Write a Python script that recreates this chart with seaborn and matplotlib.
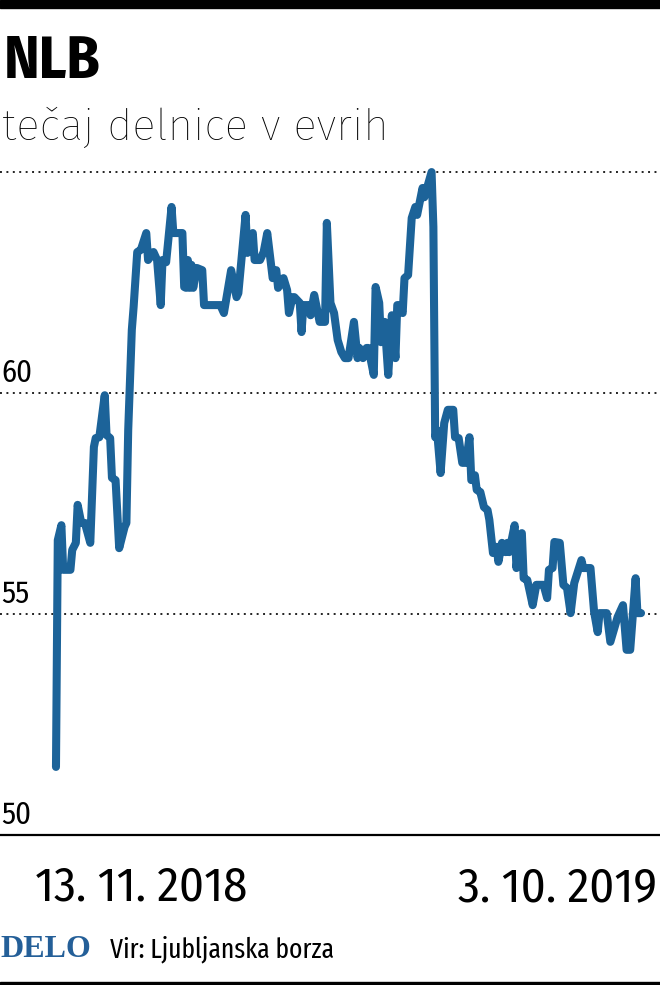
import pandas as pd
import matplotlib
matplotlib.use("Agg")
import matplotlib.pyplot as plt
import matplotlib.transforms as mtransforms
import seaborn as sns


# =========================
# 1. Data
# =========================

start_date = "2018-11-13"
end_date = "2019-10-03"

# days after 13. 11. 2018
day_offsets = [
    0, 1, 3, 4, 8, 9, 11, 12, 14, 16, 19, 21, 22, 24, 27, 28, 30, 31, 33, 35,
    38, 39, 40, 42, 43, 45, 47, 50, 51, 54, 56, 58, 59, 61, 64, 65, 70, 71, 72, 73,
    74, 75, 76, 78, 81, 82, 91, 93, 97, 100, 101, 105, 106, 109, 110, 113, 115, 117, 120, 122,
    123, 126, 128, 129, 131, 132, 135, 136, 137, 140, 141, 143, 145, 146, 149, 150, 152, 154, 156, 158,
    160, 162, 165, 167, 168, 170, 172, 173, 176, 177, 179, 180, 182, 184, 186, 188, 189, 190, 192, 193,
    195, 197, 199, 200, 203, 204, 208, 209, 210, 211, 213, 215, 217, 220, 221, 223, 225, 227, 229, 230,
    232, 233, 235, 237, 239, 240, 242, 244, 245, 247, 249, 250, 251, 254, 255, 257, 258, 259, 261, 264,
    266, 270, 272, 273, 275, 276, 279, 281, 283, 285, 287, 291, 292, 296, 298, 300, 301, 305, 307, 311,
    314, 316, 318, 321, 322, 324,
]

# share price in EUR
price = [
    51.54, 56.67, 57.01, 56.00, 56.00, 56.45, 56.61, 57.47, 57.06, 57.06, 56.61, 58.78, 58.98, 59.00, 59.95, 59.05, 58.98, 58.08, 58.03, 56.49,
    56.97, 57.06, 59.16, 61.43, 61.95, 63.19, 63.24, 63.62, 63.01, 63.19, 63.01, 61.99, 63.01, 62.96, 64.21, 63.62, 63.62, 62.40, 62.38, 63.01,
    62.38, 62.90, 62.38, 62.83, 62.78, 61.99, 61.99, 61.81, 62.78, 62.17, 62.26, 64.03, 63.17, 63.62, 63.01, 63.01, 63.19, 63.62, 62.60, 62.78,
    62.38, 62.60, 62.33, 61.81, 62.17, 62.17, 62.04, 61.38, 61.99, 61.99, 61.76, 62.22, 61.81, 61.61, 61.61, 63.85, 62.04, 61.81, 61.20, 60.93,
    60.79, 60.79, 61.61, 60.79, 61.02, 60.79, 61.02, 61.02, 60.41, 62.40, 62.04, 61.15, 61.61, 60.41, 61.76, 60.79, 61.99, 61.99, 61.81, 62.60,
    62.67, 63.96, 64.21, 64.03, 64.64, 64.43, 65.00, 63.76, 59.00, 59.16, 58.19, 59.32, 59.62, 59.62, 59.00, 58.98, 58.42, 58.42, 59.00, 58.03,
    58.14, 57.81, 57.76, 57.42, 57.35, 57.13, 56.38, 56.52, 56.18, 56.61, 56.40, 56.61, 56.40, 57.01, 56.04, 56.79, 56.83, 55.81, 55.77, 55.20,
    55.66, 55.66, 55.36, 56.00, 56.04, 56.63, 56.61, 55.66, 55.59, 55.02, 55.70, 56.22, 56.04, 56.04, 55.05, 54.59, 55.02, 55.02, 54.37, 54.93,
    55.20, 54.19, 54.19, 55.81, 55.02, 55.02,
]

y_ticks = [50, 55, 60]
grid_levels = [55, 60, 65]
x_tick_labels = ["13. 11. 2018", "3. 10. 2019"]

df = pd.DataFrame({
    "date": pd.Timestamp(start_date) + pd.to_timedelta(day_offsets, unit="D"),
    "price": price,
})


# =========================
# 2. Style
# =========================

sns.set_style("white")
sans = ["Fira Sans Condensed", "Roboto Condensed", "Roboto", "DejaVu Sans"]
sans_wide = ["Fira Sans", "Roboto", "DejaVu Sans"]
sans_narrow = ["Fira Sans Extra Condensed", "Roboto Condensed", "Roboto", "DejaVu Sans"]
plt.rcParams["font.family"] = sans

line_blue = "#1c6399"
delo_blue = "#245f98"


# =========================
# 3. Plot
# =========================

fig = plt.figure(figsize=(6.6, 9.85), dpi=100)
ax = fig.add_axes([0, 0.1523, 1, 0.6802])

for level in grid_levels:
    ax.axhline(level, color="#222222", lw=1.4, linestyle=(0, (1, 2.3)), zorder=1)

sns.lineplot(
    data=df,
    x="date",
    y="price",
    estimator=None,
    sort=False,
    color=line_blue,
    linewidth=5.8,
    solid_joinstyle="round",
    solid_capstyle="round",
    ax=ax,
    zorder=3,
)

t0 = pd.Timestamp(start_date)
t1 = pd.Timestamp(end_date)
ax.set_xlim(t0 - pd.Timedelta(days=31), t1 + pd.Timedelta(days=10.5))
ax.set_ylim(50, 65.16)

for side in ["top", "left", "right"]:
    ax.spines[side].set_visible(False)
ax.spines["bottom"].set_color("black")
ax.spines["bottom"].set_linewidth(1.6)

ax.set_xlabel("")
ax.set_ylabel("")
ax.set_yticks([])

ax.set_xticks([t0, t1])
ax.set_xticklabels(x_tick_labels, fontsize=35, color="black")
ax.tick_params(axis="x", direction="out", length=16, width=1.1, color="black", pad=5.5)

# first label starts left of its tick, second ends right of its tick
for lbl, ha, dx in zip(ax.get_xticklabels(), ["left", "right"], [-21, 16]):
    lbl.set_ha(ha)
    lbl.set_transform(lbl.get_transform() + mtransforms.ScaledTranslation(dx / 100, 0, fig.dpi_scale_trans))

# y labels sit above their gridlines at the left edge
ylab_trans = mtransforms.blended_transform_factory(ax.transAxes, ax.transData)
for val in y_ticks:
    ax.text(
        0.002, val, str(val),
        transform=ylab_trans + mtransforms.ScaledTranslation(0, 11 / 100, fig.dpi_scale_trans),
        ha="left", va="baseline", fontsize=22, color="black",
    )


# =========================
# 4. Titles, frame, source
# =========================

fig.patches.append(plt.Rectangle((0, 1 - 8 / 985), 1, 8 / 985, transform=fig.transFigure,
                                 color="black", zorder=5))
fig.patches.append(plt.Rectangle((0, 0), 1, 3 / 985, transform=fig.transFigure,
                                 color="black", zorder=5))

fig.text(4 / 660, 1 - 78 / 985, "NLB", fontsize=43, fontweight="bold", color="black",
         ha="left", va="baseline")
fig.text(2 / 660, 1 - 140 / 985, "tečaj delnice v evrih", fontsize=31.5, fontweight="light",
         family=sans_wide, color="black", ha="left", va="baseline")

fig.text(0, 1 - 957 / 985, "DELO", fontsize=23, fontweight="bold", color=delo_blue,
         family=["Liberation Serif", "DejaVu Serif"], ha="left", va="baseline")
fig.text(110 / 660, 1 - 957 / 985, "Vir: Ljubljanska borza", fontsize=20,
         family=sans_narrow, color="black", ha="left", va="baseline")

fig.savefig("out.png", dpi=100)
